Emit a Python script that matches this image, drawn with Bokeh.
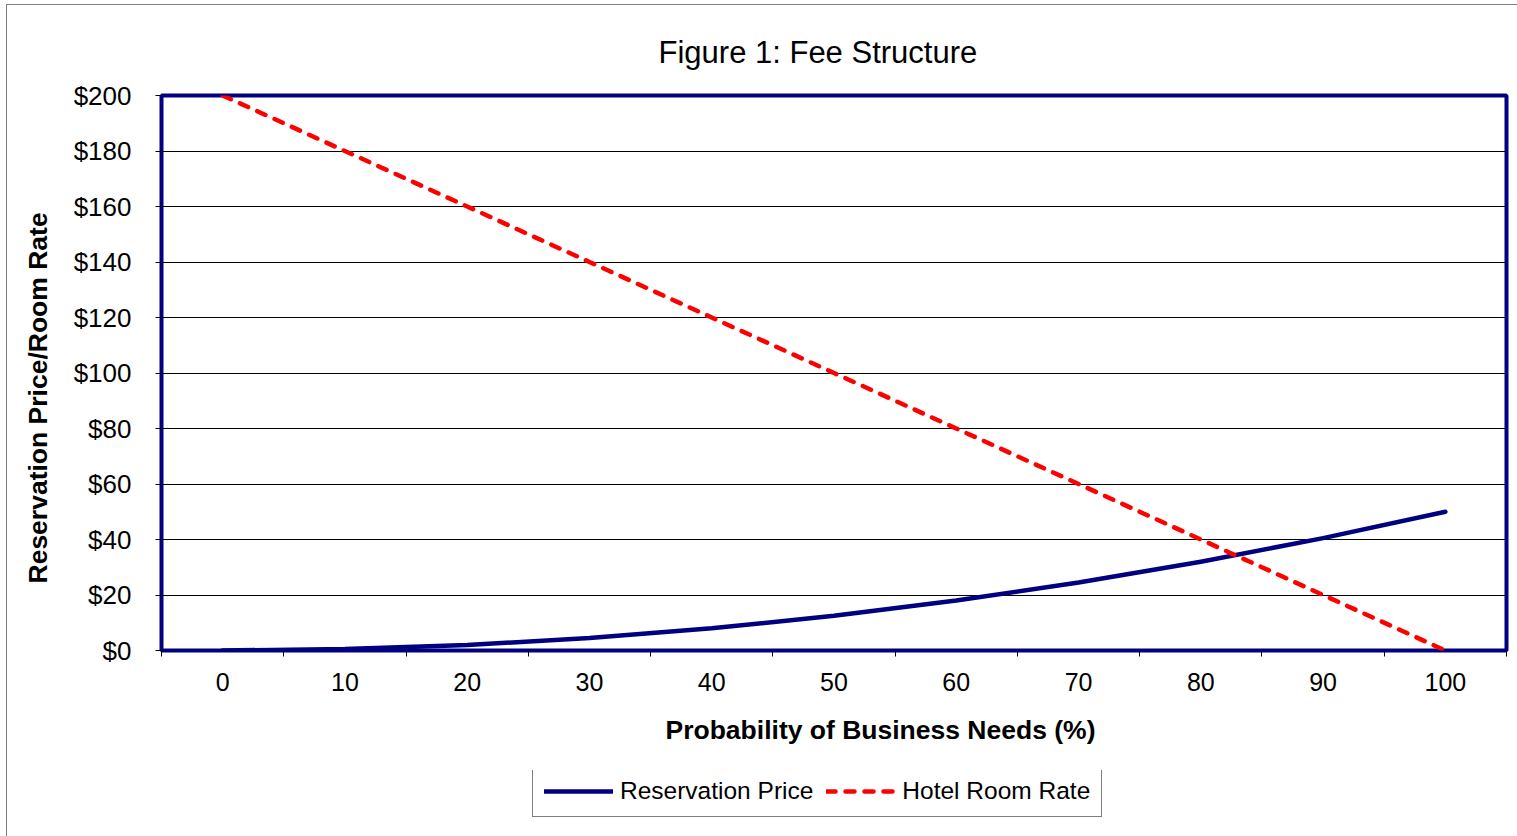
from bokeh.plotting import figure
from bokeh.layouts import column
from bokeh.models import Range1d, FixedTicker, PrintfTickFormatter, Legend, LegendItem, Title
from bokeh.embed import file_html
from bokeh.resources import INLINE

# ---- data ----
categories = ["0", "10", "20", "30", "40", "50", "60", "70", "80", "90", "100"]
reservation_price = [0, 0.5, 2, 4.5, 8, 12.5, 18, 24.5, 32, 40.5, 50]
hotel_room_rate = [200, 180, 160, 140, 120, 100, 80, 60, 40, 20, 0]
y_ticks = [0, 20, 40, 60, 80, 100, 120, 140, 160, 180, 200]

title_text = "Figure 1: Fee Structure"
x_title = "Probability of Business Needs (%)"
y_title = "Reservation Price/Room Rate"
series_names = ["Reservation Price", "Hotel Room Rate"]

FONT = "Liberation Sans"
NAVY = "#000080"
RED = "#FF0000"
LINE_STYLES = [dict(line_color=NAVY, line_width=4.5, line_cap="round", line_join="round"),
               dict(line_color=RED, line_width=4.5, line_dash="9 10", line_cap="round",
                    line_join="round")]

n = len(categories)
x_centers = [i + 0.5 for i in range(n)]
x_bounds = list(range(n + 1))
series = [reservation_price, hotel_room_rate]

p = figure(
    frame_width=1345, frame_height=555,
    min_border_left=161, min_border_top=95, min_border_right=11, min_border_bottom=120,
    x_range=Range1d(0, n), y_range=Range1d(y_ticks[0], y_ticks[-1]),
    output_backend="svg", toolbar_location=None,
)
# thin grey chart-area frame (left and top edges only visible)
p.styles = {"box-shadow": "inset 6px 4px 0 0 #ffffff, inset 7px 5px 0 0 #808080",
            "background-color": "#ffffff"}

p.background_fill_color = "white"
p.border_fill_color = None
p.outline_line_color = NAVY
p.outline_line_width = 4
p.outline_line_alpha = 1

mt = Title(text=title_text, align="left", offset=497, standoff=52,
           text_font=FONT, text_font_size="31px", text_font_style="normal",
           text_color="black")
p.add_layout(mt, "above")

# grids
p.xgrid.grid_line_color = None
p.ygrid.ticker = FixedTicker(ticks=y_ticks)
p.ygrid.grid_line_color = "black"
p.ygrid.grid_line_width = 1

# x axis (categories between tick marks)
xa = p.xaxis[0]
xa.ticker = FixedTicker(ticks=x_centers, minor_ticks=x_bounds)
xa.major_label_overrides = {xc: c for xc, c in zip(x_centers, categories)}
xa.major_tick_out = 0
xa.major_tick_in = 0
xa.minor_tick_out = 6
xa.minor_tick_in = 0
xa.minor_tick_line_color = "black"
xa.axis_line_color = None
xa.major_label_text_font = FONT
xa.major_label_text_font_size = "25px"
xa.major_label_text_color = "black"
xa.major_label_standoff = 16

# y axis
ya = p.yaxis[0]
ya.ticker = FixedTicker(ticks=y_ticks)
ya.formatter = PrintfTickFormatter(format="$%d")
ya.major_tick_out = 6
ya.major_tick_in = 0
ya.major_tick_line_color = "black"
ya.minor_tick_line_color = None
ya.axis_line_color = None
ya.major_label_text_font = FONT
ya.major_label_text_font_size = "26px"
ya.major_label_text_color = "black"
ya.major_label_standoff = 24

# axis titles (offset like the reference)
yt = Title(text=y_title, align="left", offset=67, standoff=36,
           text_font=FONT, text_font_size="26.5px", text_font_style="bold",
           text_color="black")
p.add_layout(yt, "left")
xt = Title(text=x_title, align="left", offset=504, standoff=38,
           text_font=FONT, text_font_size="26.5px", text_font_style="bold",
           text_color="black")
p.add_layout(xt, "below")

# series
for vals, st in zip(series, LINE_STYLES):
    p.line(x_centers, vals, **st)

# ---- legend strip below the chart (series kept out of view, only the key shows) ----
lp = figure(width=1517, height=66, x_range=Range1d(0, n),
            y_range=Range1d(y_ticks[-1] + 100, y_ticks[-1] + 200),
            x_axis_type=None, y_axis_type=None,
            min_border_left=161, min_border_right=11, min_border_top=0, min_border_bottom=0,
            output_backend="svg", toolbar_location=None)
lp.styles = {"box-shadow": "inset 6px 0 0 0 #ffffff, inset 7px 0 0 0 #808080",
             "background-color": "#ffffff"}
lp.outline_line_color = None
lp.background_fill_color = None
lp.border_fill_color = None
lp.grid.grid_line_color = None
key_renderers = [lp.line(x_centers, vals, **st) for vals, st in zip(series, LINE_STYLES)]

legend = Legend(
    items=[LegendItem(label=name, renderers=[r]) for name, r in zip(series_names, key_renderers)],
    orientation="horizontal", location=(371, 19),
    border_line_color="black", border_line_width=1,
    background_fill_color="white", background_fill_alpha=1,
    label_text_font=FONT, label_text_font_size="24.5px", label_text_color="black",
    glyph_width=69, glyph_height=24, label_height=24, label_standoff=7,
    spacing=13, padding=11, margin=0,
)
lp.add_layout(legend)

layout = column(p, lp, spacing=0)
open("out.html", "w").write(file_html(layout, INLINE))
